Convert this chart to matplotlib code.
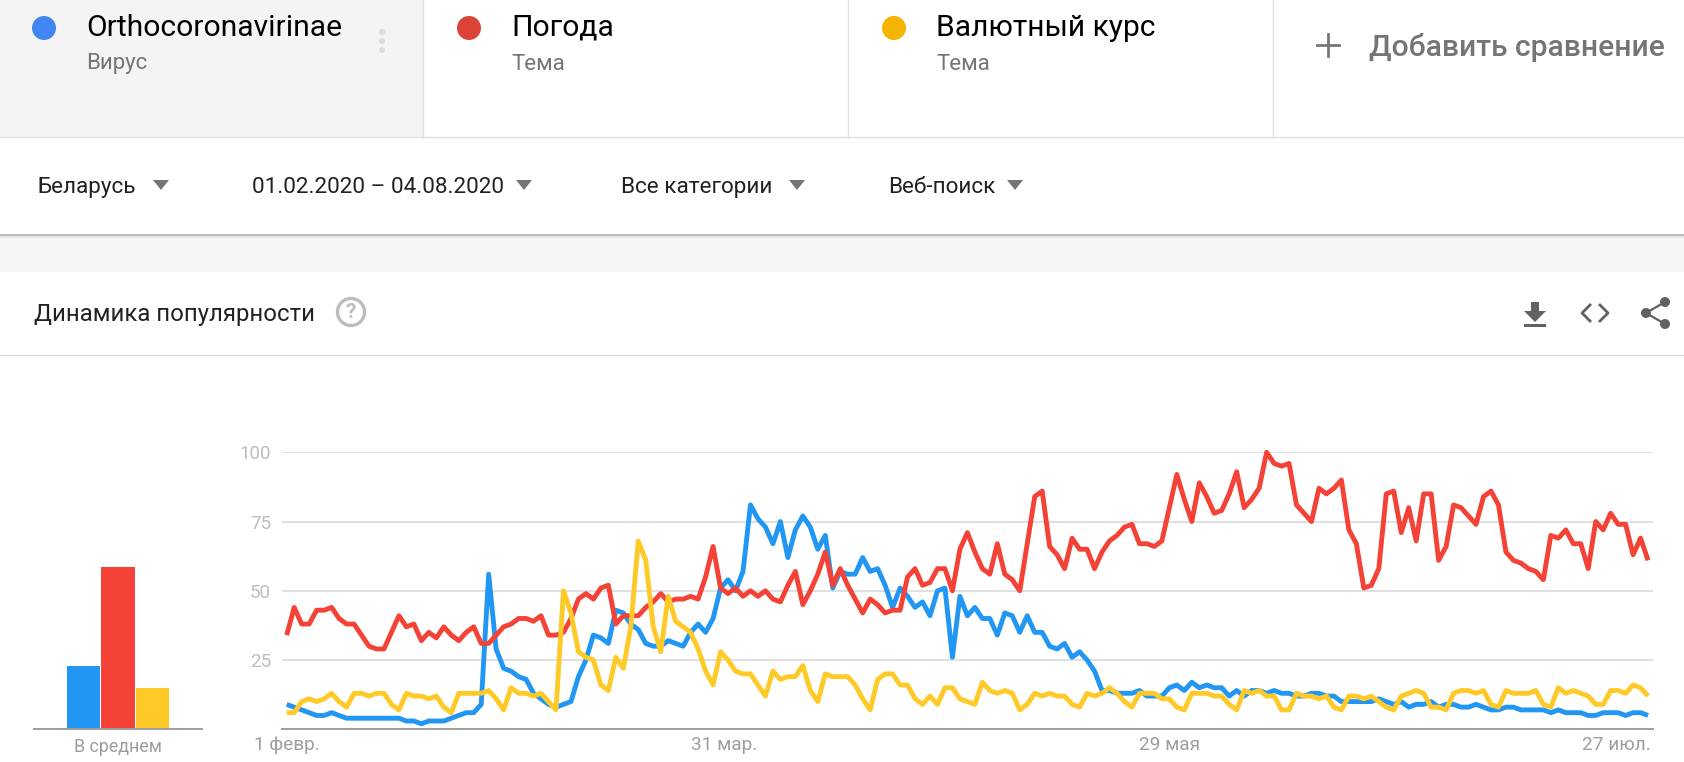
#!/usr/bin/env python3
import matplotlib
matplotlib.use("Agg")
import matplotlib.pyplot as plt
from matplotlib.patches import Circle, Polygon, Rectangle

plt.rcParams["font.family"] = ["Roboto", "DejaVu Sans"]

W, H = 1684, 762

# daily values
blue = [9, 8, 7, 6, 5, 5, 6, 5, 4, 4, 4, 4, 4, 4, 4, 4, 3, 3, 2, 3, 3, 3, 4, 5, 6, 6, 9, 56, 29, 22,
        21, 19, 18, 13, 11, 9, 8, 9, 10, 19, 25, 34, 33, 31, 43, 42, 38, 36, 31, 30, 30, 32, 31, 30, 35, 38, 35, 40, 51, 54,
        50, 57, 81, 76, 73, 67, 75, 62, 72, 77, 73, 65, 70, 51, 57, 56, 56, 62, 57, 58, 52, 44, 51, 48, 44, 46, 41, 50, 51, 26,
        48, 41, 44, 40, 40, 34, 42, 41, 35, 41, 35, 35, 30, 29, 31, 26, 28, 25, 21, 14, 14, 13, 13, 13, 14, 12, 12, 12, 15, 16,
        14, 17, 15, 16, 15, 15, 12, 14, 12, 14, 14, 13, 14, 13, 13, 12, 12, 13, 13, 12, 12, 10, 10, 10, 10, 10, 11, 10, 9, 10,
        8, 9, 9, 10, 8, 9, 9, 8, 8, 9, 8, 7, 7, 8, 8, 7, 7, 7, 7, 6, 7, 6, 6, 6, 5, 5, 6, 6, 6, 5, 6, 6, 5]
red = [34, 44, 38, 38, 43, 43, 44, 40, 38, 38, 34, 30, 29, 29, 35, 41, 37, 38, 32, 35, 33, 37, 34, 32, 35, 37, 31, 31, 34, 37,
       38, 40, 40, 39, 41, 34, 34, 35, 40, 47, 49, 47, 51, 52, 38, 41, 41, 41, 44, 46, 49, 46, 47, 47, 48, 47, 55, 66, 51, 49,
       51, 48, 50, 48, 50, 47, 46, 52, 57, 45, 50, 56, 64, 52, 58, 52, 47, 42, 47, 45, 42, 43, 43, 55, 58, 52, 53, 58, 58, 50,
       65, 71, 64, 58, 56, 67, 56, 54, 50, 67, 84, 86, 66, 63, 58, 69, 65, 65, 58, 64, 68, 70, 73, 74, 67, 67, 66, 68, 80, 92,
       83, 75, 89, 84, 78, 79, 85, 93, 80, 83, 87, 100, 96, 95, 96, 81, 78, 75, 87, 85, 87, 90, 72, 67, 51, 52, 58, 85, 86, 71,
       80, 68, 85, 85, 61, 66, 81, 80, 77, 74, 84, 86, 81, 64, 61, 60, 58, 57, 54, 70, 69, 72, 67, 67, 58, 75, 72, 78, 74, 74,
       63, 69, 61]
yellow = [6, 6, 10, 11, 10, 11, 13, 10, 8, 13, 13, 12, 13, 13, 9, 7, 13, 12, 12, 11, 12, 8, 6, 13, 13, 13, 13, 14, 11, 7,
          15, 13, 13, 12, 13, 10, 7, 50, 42, 28, 26, 25, 16, 14, 26, 22, 37, 68, 61, 37, 28, 48, 39, 37, 35, 29, 21, 16, 28, 25,
          21, 20, 20, 16, 12, 21, 18, 19, 19, 23, 14, 10, 20, 19, 19, 19, 16, 11, 7, 18, 20, 20, 16, 16, 11, 9, 12, 9, 15, 15,
          11, 10, 9, 17, 14, 13, 14, 13, 7, 9, 13, 12, 13, 12, 12, 9, 8, 13, 12, 13, 15, 13, 10, 8, 13, 13, 13, 11, 11, 8,
          7, 13, 13, 13, 12, 12, 9, 7, 14, 13, 14, 12, 12, 7, 7, 13, 12, 12, 11, 12, 8, 7, 12, 12, 11, 12, 10, 8, 7, 12,
          13, 14, 13, 8, 8, 7, 13, 14, 14, 13, 14, 9, 8, 14, 13, 13, 13, 14, 9, 8, 15, 13, 14, 13, 12, 9, 9, 14, 14, 13,
          16, 15, 12]
averages = [23, 58.7, 15]

series_colors = ["#2196F3", "#F44336", "#FFCA28"]
y_ticks = [25, 50, 75, 100]
x_tick_pos = [0, 58.5, 118, 177.8]
x_tick_labels = ["1 февр.", "31 мар.", "29 мая", "27 июл."]

terms = ["Orthocoronavirinae", "Погода", "Валютный курс"]
term_types = ["Вирус", "Тема", "Тема"]
term_dots = ["#4285F4", "#DB4437", "#F4B400"]
filters = ["Беларусь", "01.02.2020 – 04.08.2020", "Все категории", "Веб-поиск"]

fig = plt.figure(figsize=(W / 100, H / 100), dpi=100, facecolor="white")


def px_axes(left, top, right, bottom):
    return fig.add_axes([left / W, 1 - bottom / H, (right - left) / W, (bottom - top) / H])


# page furniture, drawn in pixel coordinates
ui = px_axes(0, 0, W, H)
ui.set_xlim(0, W)
ui.set_ylim(H, 0)
ui.axis("off")

ui.add_patch(Rectangle((0, 0), 423, 137, fc="#F4F4F4", ec="none"))
ui.add_patch(Rectangle((0, 235), W, 37, fc="#F6F6F6", ec="none"))
ui.add_patch(Rectangle((0, 233.5), W, 2.5, fc="#BDBDBD", ec="none"))
ui.add_patch(Rectangle((0, 236), W, 2, fc="#E6E6E6", ec="none"))
ui.plot([0, W], [137, 137], color="#E0E0E0", lw=1)
ui.plot([0, W], [355, 355], color="#E0E0E0", lw=1)
for sep in [423, 848, 1273]:
    ui.plot([sep, sep], [0, 137], color="#E0E0E0", lw=1)

dot_x = [44, 469, 894]
text_x = [86, 511, 936]
for i in range(3):
    ui.add_patch(Circle((dot_x[i], 28), 12, fc=term_dots[i], ec="none"))
    ui.text(text_x[i], 28, terms[i], fontsize=21.6, color="#000000", va="center")
    ui.text(text_x[i], 64, term_types[i], fontsize=16, color="#757575", va="center")
for dy in [32, 41, 50]:
    ui.add_patch(Circle((382, dy), 3, fc="#DADCE0", ec="none"))

ui.plot([1317, 1339], [45, 45], color="#757575", lw=2)
ui.plot([1328, 1328], [34, 56], color="#757575", lw=2)
ui.text(1369, 48, "Добавить сравнение", fontsize=21.6, color="#757575", va="center", fontweight="medium")

filter_x = [37.5, 252, 621, 888]
tri_x = [161, 524, 797, 1015]
for i in range(4):
    ui.text(filter_x[i], 187.5, filters[i], fontsize=16.2, color="#212121", va="center")
    tx = tri_x[i]
    ui.add_patch(Polygon([(tx - 8, 180), (tx + 8, 180), (tx, 190)], fc="#757575", ec="none"))

ui.text(34, 315, "Динамика популярности", fontsize=17.2, color="#212121", va="center")
ui.add_patch(Circle((351, 312), 13.5, fc="none", ec="#BDBDBD", lw=2.4))
ui.text(351, 312, "?", fontsize=15, color="#BDBDBD", va="center", ha="center", fontweight="bold")

# download icon
ui.add_patch(Polygon([(1531, 302), (1539, 302), (1539, 311), (1546, 311), (1535, 322), (1524, 311), (1531, 311)],
                     fc="#616161", ec="none"))
ui.add_patch(Rectangle((1524, 324), 22, 3, fc="#616161", ec="none"))
# embed icon
ui.plot([1590, 1582, 1590], [305, 313, 321], color="#616161", lw=2)
ui.plot([1600, 1608, 1600], [305, 313, 321], color="#616161", lw=2)
# share icon
ui.plot([1665, 1646, 1665], [302, 313, 324], color="#616161", lw=1.6)
for sx, sy in [(1665, 302), (1646, 313), (1665, 324)]:
    ui.add_patch(Circle((sx, sy), 5, fc="#616161", ec="none"))

# average bars
bar_ax = px_axes(34, 452.3, 202, 729.3)
bar_ax.set_xlim(-1.435, 3.435)
bar_ax.set_ylim(0, 100)
bar_ax.patch.set_alpha(0)
bar_ax.bar(range(3), averages, width=0.957, color=series_colors)
for name in ["top", "left", "right"]:
    bar_ax.spines[name].set_visible(False)
bar_ax.spines["bottom"].set_color("#9E9E9E")
bar_ax.spines["bottom"].set_linewidth(1.4)
bar_ax.set_yticks([])
bar_ax.set_xticks([1])
bar_ax.set_xticklabels(["В среднем"], fontsize=12.9, color="#9E9E9E")
bar_ax.tick_params(axis="x", length=0, pad=6)

# trend lines
ax = px_axes(282, 452.3, 1653, 729.3)
ax.set_xlim(-0.63, 182.66)
ax.set_ylim(0, 100)
ax.patch.set_alpha(0)
for name in ["top", "left", "right"]:
    ax.spines[name].set_visible(False)
ax.spines["bottom"].set_color("#9E9E9E")
ax.spines["bottom"].set_linewidth(1.4)
ax.set_yticks(y_ticks)
ax.set_yticklabels([str(t) for t in y_ticks], fontsize=13.5, color="#BDBDBD")
ax.set_xticks(x_tick_pos)
ax.set_xticklabels(x_tick_labels, fontsize=13.7, color="#9E9E9E")
ax.tick_params(axis="both", length=0)
ax.tick_params(axis="y", pad=8)
ax.tick_params(axis="x", pad=5)
ax.grid(axis="y", color="#E0E0E0", lw=1.4)
ax.set_axisbelow(True)

for values, color in zip([blue, red, yellow], series_colors):
    ax.plot(range(len(values)), values, color=color, lw=3.5, clip_on=False,
            solid_joinstyle="round", solid_capstyle="butt")

fig.savefig("out.png", dpi=100)
